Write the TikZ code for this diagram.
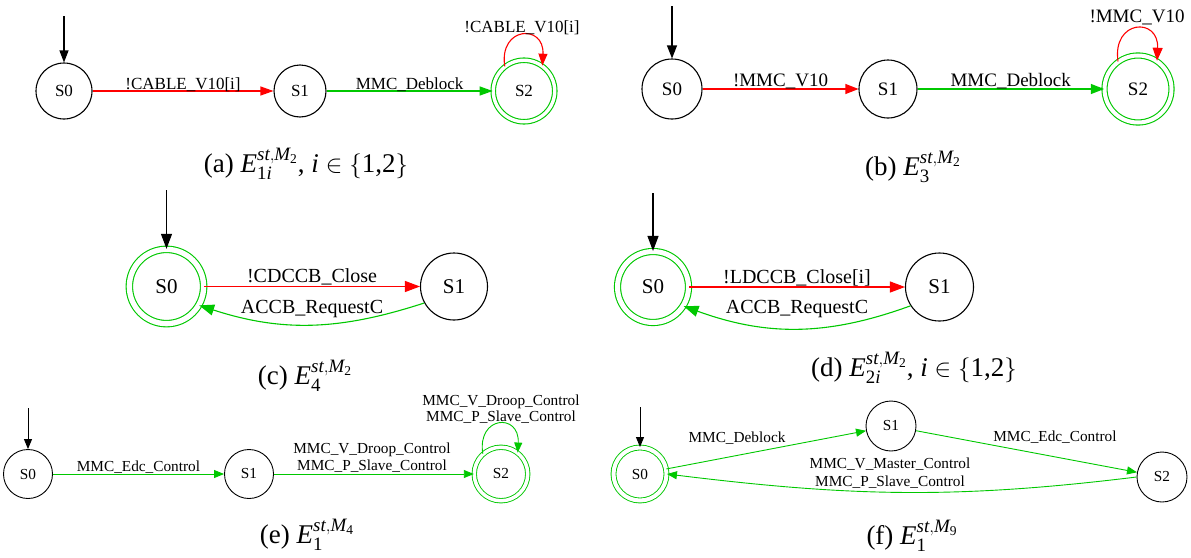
\documentclass[tikz,border=0pt]{standalone}
\usepackage{amsmath}
\usepackage{fontspec}
\setmainfont{Liberation Serif}
\usetikzlibrary{arrows.meta}
\definecolor{grn}{RGB}{0,200,0}
\definecolor{rd}{RGB}{255,0,0}
\newcommand{\fsz}[1]{\fontsize{#1}{#1}\selectfont}
\newcommand{\ti}[1]{\textit{#1}}
\begin{document}
\begin{tikzpicture}[x=1pt,y=1pt,
  st/.style={circle, draw=black, inner sep=0pt, minimum size=#1},
  acc/.style 2 args={circle, draw=grn, double=white, double distance=#2, inner sep=0pt, minimum size=#1},
  tp/.style 2 args={-{Triangle[length=#1,width=#2]}},
  lab/.style={anchor=base, inner sep=0pt, text=black},
  captxt/.style={anchor=base, inner sep=0pt, font=\fsz{27}},
]
\useasboundingbox (0,0) rectangle (1191,-557);

% ---------------- (a)
\begin{scope}[font=\fsz{17}, line width=1.1pt]
\node[st=56] (a0) at (64,-91) {S0};
\node[st=52] (a1) at (300,-91) {S1};
\node[acc={61.5}{3.4pt}] (a2) at (524,-91) {S2};
\coordinate (ai) at (64,-16);
\draw[tp={12pt}{9pt}] (ai) -- (a0);
\draw[tp={13pt}{9pt}, rd] (a0) -- (a1) node[lab, midway, yshift=2pt] (al1) {!CABLE\_V10[i]};
\draw[tp={13pt}{9pt}, grn] (a1) -- (a2) node[lab, midway, yshift=2pt] (al2) {MMC\_Deblock};
\draw[tp={12pt}{9pt}, rd] (a2.128) .. controls +(-6,40) and +(2,42) .. (a2.54);
\node[lab] (al3) at (522,-32) {!CABLE\_V10[i]};
\end{scope}
\node[captxt] (ca) at (306,-172) {(a) $\ti{E}^{\ti{st},\ti{M}_{\text{2}}}_{\text{1}\ti{i}}$, $\ti{i}\in\{\text{1,2}\}$};

% ---------------- (b)
\begin{scope}[font=\fsz{19}, line width=1.1pt]
\node[st=60] (b0) at (672,-89) {S0};
\node[st=58] (b1) at (888,-89) {S1};
\node[acc={67}{4pt}] (b2) at (1138,-89) {S2};
\coordinate (bi) at (672,-6);
\draw[tp={13pt}{10pt}] (bi) -- (b0);
\draw[tp={13pt}{10pt}, rd] (b0) -- (b1) node[lab, midway, yshift=3pt] (bl1) {!MMC\_V10};
\draw[tp={13pt}{10pt}, grn] (b1) -- (b2) node[lab, midway, yshift=3pt] (bl2) {MMC\_Deblock};
\draw[tp={13pt}{10pt}, rd] (b2.126) .. controls +(-6,42) and +(2,44) .. (b2.56);
\node[lab] (bl3) at (1137,-22) {!MMC\_V10};
\end{scope}
\node[captxt] (cb) at (913,-175) {(b) $\ti{E}^{\ti{st},\ti{M}_{\text{2}}}_{\text{3}}$};

% ---------------- (c)
\begin{scope}[font=\fsz{21}, line width=1.1pt]
\node[acc={74.3}{5.3pt}] (c0) at (166.5,-286.5) {S0};
\node[st=67] (c1) at (454,-286.5) {S1};
\coordinate (ci) at (166.5,-190);
\draw[tp={15pt}{11pt}] (ci) -- (c0);
\draw[tp={15pt}{11pt}, rd] (c0) -- (c1) node[lab, midway, yshift=4.5pt, font=\fsz{20}] (cl1) {!CDCCB\_Close};
\draw[tp={15pt}{11pt}, grn] (c1.209) to[out=198,in=-18] (c0.-30);
\node[lab, font=\fsz{20}] (cl2) at (312,-313) {ACCB\_RequestC};
\end{scope}
\node[captxt] (cc) at (305,-384) {(c) $\ti{E}^{\ti{st},\ti{M}_{\text{2}}}_{\text{4}}$};

% ---------------- (d)
\begin{scope}[font=\fsz{21}, line width=1.1pt]
\node[acc={71}{5pt}] (d0) at (653,-287) {S0};
\node[st=68] (d1) at (939.5,-287) {S1};
\coordinate (di) at (653,-193);
\draw[tp={15pt}{11pt}] (di) -- (d0);
\draw[tp={15pt}{11pt}, rd] (d0) -- (d1) node[lab, midway, yshift=4pt, font=\fsz{20}] (dl1) {!LDCCB\_Close[i]};
\draw[tp={15pt}{11pt}, grn] (d1.213) to[out=200,in=-20] (d0.-32);
\node[lab, font=\fsz{20}] (dl2) at (797,-313) {ACCB\_RequestC};
\end{scope}
\node[captxt] (cd) at (914,-376) {(d) $\ti{E}^{\ti{st},\ti{M}_{\text{2}}}_{\text{2}\ti{i}}$, $\ti{i}\in\{\text{1,2}\}$};

% ---------------- (e)
\begin{scope}[font=\fsz{15.3}, line width=0.9pt]
\node[st=49] (e0) at (28,-474) {S0};
\node[st=49] (e1) at (249,-474) {S1};
\node[acc={53.5}{3.5pt}] (e2) at (501,-474) {S2};
\coordinate (ei) at (28,-408);
\draw[tp={10pt}{8pt}] (ei) -- (e0);
\draw[tp={10pt}{8pt}, grn] (e0) -- (e1) node[lab, midway, yshift=3pt] (el1) {MMC\_Edc\_Control};
\draw[tp={10pt}{8pt}, grn] (e1) -- (e2);
\node[lab] (el2) at (372,-453) {MMC\_V\_Droop\_Control};
\node[lab] (el3) at (372,-470) {MMC\_P\_Slave\_Control};
\draw[tp={10pt}{8pt}, grn] (e2.132) .. controls +(-6,38) and +(2,40) .. (e2.52);
\node[lab] (el4) at (501,-405) {MMC\_V\_Droop\_Control};
\node[lab] (el5) at (501,-421) {MMC\_P\_Slave\_Control};
\end{scope}
\node[captxt] (ce) at (307,-543) {(e) $\ti{E}^{\ti{st},\ti{M}_{\text{4}}}_{\text{1}}$};

% ---------------- (f)
\begin{scope}[font=\fsz{15.3}, line width=0.9pt]
\node[acc={53}{4pt}] (f0) at (640,-474) {S0};
\node[st=50] (f1) at (891,-426) {S1};
\node[st=50] (f2) at (1162,-477) {S2};
\coordinate (fi) at (640,-407);
\draw[tp={10pt}{8pt}] (fi) -- (f0);
\draw[tp={10pt}{8pt}, grn] (f0) -- (f1);
\node[lab] (fl1) at (737,-442) {MMC\_Deblock};
\draw[tp={10pt}{8pt}, grn] (f1) -- (f2);
\node[lab] (fl2) at (1055,-441) {MMC\_Edc\_Control};
\draw[tp={10pt}{8pt}, grn] (f2.west) to[out=187,in=-7] (f0.east);
\node[lab] (fl3) at (890,-468) {MMC\_V\_Master\_Control};
\node[lab] (fl4) at (890,-486) {MMC\_P\_Slave\_Control};
\end{scope}
\node[captxt] (cf) at (912,-544) {(f) $\ti{E}^{\ti{st},\ti{M}_{\text{9}}}_{\text{1}}$};
\end{tikzpicture}
\end{document}
